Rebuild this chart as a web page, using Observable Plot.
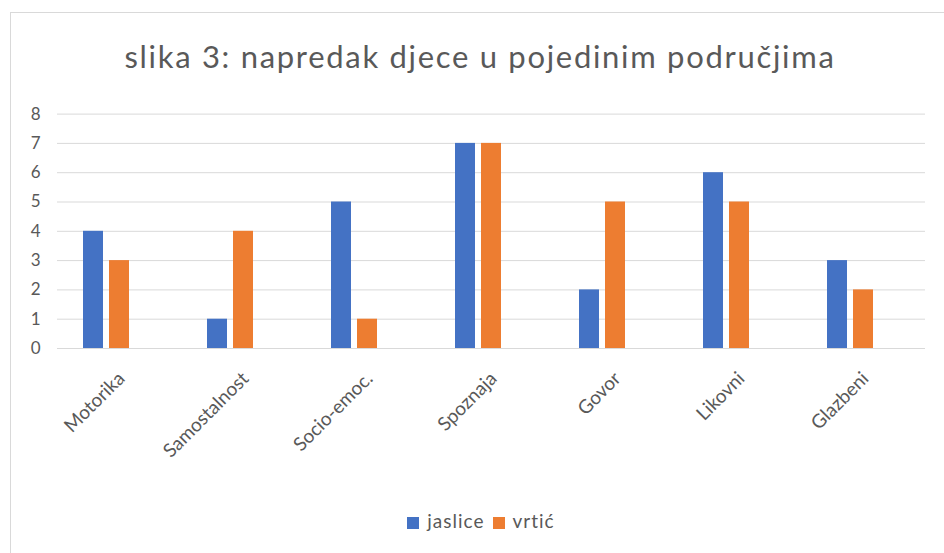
<!DOCTYPE html>
<html>
<head>
<meta charset="utf-8">
<script src="https://cdn.jsdelivr.net/npm/d3@7"></script>
<script src="https://cdn.jsdelivr.net/npm/@observablehq/plot@0.6"></script>
<style>
  html, body { margin: 0; padding: 0; background: #fff; }
  #wrap { position: relative; width: 944px; height: 553px; overflow: hidden; font-family: Lato, "Noto Sans", sans-serif; color: #595959; }
  #frame { position: absolute; left: 10px; top: 12px; width: 950px; height: 560px; border: 1px solid #d9d9d9; box-sizing: border-box; }
  #title { position: absolute; left: 10px; width: 940px; top: 41px; text-align: center; font-size: 31px; letter-spacing: 1.7px; line-height: 1; color: #595959; }
  #chart { position: absolute; left: 0; top: 0; }
  #legend { position: absolute; left: 0; width: 962px; top: 509px; text-align: center; font-size: 19px; letter-spacing: 1px; color: #595959; }
  #legend .item { display: inline-block; margin: 0 4px; }
  #legend .sw { display: inline-block; width: 12px; height: 12px; margin-right: 8px; vertical-align: -1px; }
</style>
</head>
<body>
<div id="wrap">
  <div id="frame"></div>
  <div id="title"></div>
  <div id="chart"></div>
  <div id="legend"></div>
</div>
<script>
const titleText = "slika 3: napredak djece u pojedinim područjima";
const categories = ["Motorika", "Samostalnost", "Socio-emoc.", "Spoznaja", "Govor", "Likovni", "Glazbeni"];
const series = ["jaslice", "vrtić"];
const jaslice = [4, 1, 5, 7, 2, 6, 3];
const vrtic = [3, 4, 1, 7, 5, 5, 2];
const colors = ["#4472C4", "#ED7D31"];
const yTicks = [0, 1, 2, 3, 4, 5, 6, 7, 8];

const values = [jaslice, vrtic];
const table = categories.flatMap((c, i) => series.map((s, j) => ({category: c, series: s, value: values[j][i]})));

document.getElementById("title").textContent = titleText;

const chart = Plot.plot({
  width: 944,
  height: 480,
  marginTop: 113.6,
  marginBottom: 132,
  marginLeft: 42,
  marginRight: 31,
  style: {fontFamily: "Lato, 'Noto Sans', sans-serif", fontSize: "17px", color: "#595959", background: "transparent", overflow: "visible"},
  fx: {domain: categories, padding: 0, label: null, axis: null},
  x: {domain: series, paddingInner: 6 / 27, paddingOuter: 1.415, axis: null},
  y: {domain: [0, 8], label: null, axis: null},
  color: {domain: series, range: colors},
  marks: [
    Plot.ruleY(yTicks, {stroke: "#d9d9d9", strokeWidth: 1, dx: 13}),
    Plot.barY(table, {fx: "category", x: "series", y: "value", fill: "series"}),
    Plot.axisY({ticks: yTicks, tickSize: 0, tickPadding: 4, label: null, fontSize: 17, tickFormat: d => d}),
    Plot.axisFx({anchor: "bottom", tickRotate: -45, tickSize: 0, tickPadding: 27, dx: 15, label: null, fontSize: 19, style: "letter-spacing: 1px"})
  ]
});
document.getElementById("chart").appendChild(chart);

const legend = document.getElementById("legend");
series.forEach((s, i) => {
  const item = document.createElement("span");
  item.className = "item";
  const sw = document.createElement("span");
  sw.className = "sw";
  sw.style.background = colors[i];
  item.appendChild(sw);
  item.appendChild(document.createTextNode(s));
  legend.appendChild(item);
});
</script>
</body>
</html>
